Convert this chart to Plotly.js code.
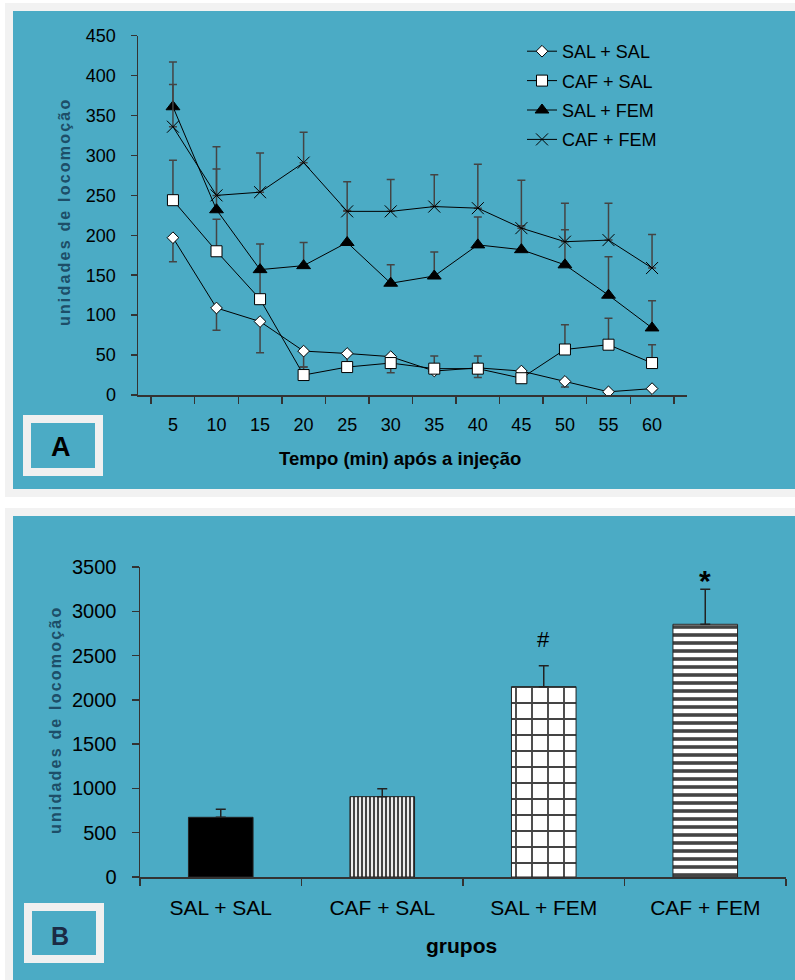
<!DOCTYPE html>
<html><head><meta charset="utf-8">
<script src="https://cdn.plot.ly/plotly-3.0.1.min.js"></script>
<style>
html,body{margin:0;padding:0;background:#fff;}
#chart{width:795px;height:980px;}
.annotation[data-index="0"] text, .annotation[data-index="1"] text {letter-spacing:2.2px;}
</style></head><body><div id="chart"></div>
<script>
// ---- Data (panel A) ----
const times = [5,10,15,20,25,30,35,40,45,50,55,60];
const seriesNames = ["SAL + SAL","CAF + SAL","SAL + FEM","CAF + FEM"];
const salSal    = [197,109,92,55,52,48,30,34,30,17,4,8];
const salSalErr = [30,28,39,20,12,20,0,12,0,7,0,0];      // drawn downward
const cafSal    = [244,180,120,25,35,40,33,33,21,57,63,40];
const cafSalErr = [50,40,35,10,0,0,16,16,0,31,33,23];
const salFem    = [361,232,157,162,191,140,149,188,182,163,125,84];
const salFemErr = [56,51,32,29,40,23,30,35,30,44,48,34];
const cafFem    = [336,250,254,291,230,230,236,234,209,192,194,159];
const cafFemErr = [53,61,49,38,37,40,40,55,60,48,46,42];
const yTicksA = [0,50,100,150,200,250,300,350,400,450];

// ---- Data (panel B) ----
const groups  = ["SAL + SAL","CAF + SAL","SAL + FEM","CAF + FEM"];
const totals  = [674, 907, 2149, 2853];
const totErr  = [90, 90, 237, 395];
const sigMarks = ["", "", "#", "*"];
const yTicksB = [0,500,1000,1500,2000,2500,3000,3500];

const W = 795, H = 980;
const px = x => x / W;
const py = y => 1 - y / H;
const FONT = "Liberation Sans, Arial, sans-serif";
const zeros = n => new Array(n).fill(0);

function lineTrace(name, y, err, up, marker) {
  return {
    type: "scatter", mode: "lines+markers", name: name, legendgroup: name,
    x: times, y: y, xaxis: "x", yaxis: "y",
    line: {color: "#000", width: 1},
    marker: marker,
    error_y: {type: "data", symmetric: false,
      array: up ? err : zeros(err.length),
      arrayminus: up ? zeros(err.length) : err,
      color: "#444", thickness: 1.5, width: 4}
  };
}

const traces = [
  lineTrace(seriesNames[0], salSal, salSalErr, false,
    {symbol: "diamond", size: 9, color: "#fff", line: {color: "#000", width: 1}}),
  lineTrace(seriesNames[1], cafSal, cafSalErr, true,
    {symbol: "square", size: 11, color: "#fff", line: {color: "#000", width: 1}}),
  lineTrace(seriesNames[2], salFem, salFemErr, true,
    {symbol: "triangle-up", size: 12, color: "#000", line: {color: "#000", width: 1}}),
  lineTrace(seriesNames[3], cafFem, cafFemErr, true,
    {symbol: "x-thin-open", size: 12, color: "#000", line: {color: "#000", width: 1}}),
  {
    type: "bar", x: groups, y: totals, xaxis: "x2", yaxis: "y2", showlegend: false,
    marker: {
      color: ["#000", "#fff", "#fff", "#fff"],
      line: {color: "#222", width: 1},
      pattern: {shape: ["", "|", "+", "-"], fgcolor: "#111",
        fgopacity: 1, fillmode: "overlay",
        size: [8, 4, 16, 8], solidity: [0.3, 0.55, 0.22, 0.45]}
    },
    error_y: {type: "data", symmetric: false, array: totErr, arrayminus: zeros(totErr.length),
      color: "#222", thickness: 1.5, width: 5}
  }
];

const axisCommon = {
  showline: true, linecolor: "#333", linewidth: 1.5,
  ticks: "outside", tickcolor: "#333", tickwidth: 1.5,
  showgrid: false, zeroline: false, fixedrange: true
};

const ann = (text, x, y, font, extra) => Object.assign({
  text: text, xref: "paper", yref: "paper", x: px(x), y: py(y),
  xanchor: "center", yanchor: "middle", showarrow: false, font: font
}, extra || {});

const annotations = [
  ann("unidades de locomoção", 64, 212, {family: FONT, size: 16, weight: "bold", color: "#1d4e68"}, {textangle: -90}),
  ann("unidades de locomoção", 55, 720, {family: FONT, size: 16, weight: "bold", color: "#1d4e68"}, {textangle: -90}),
  ann("Tempo (min) após a injeção", 400, 458, {family: FONT, size: 18.5, weight: "bold", color: "#000"}),
  ann("grupos", 461, 945, {family: FONT, size: 21, weight: "bold", color: "#000"}),
  ann("A", 61, 447, {family: FONT, size: 27, weight: "bold", color: "#000"}),
  ann("B", 60, 936, {family: FONT, size: 25, weight: "bold", color: "#1b2b45"})
];
groups.forEach((g, i) => {
  if (!sigMarks[i]) return;
  const star = sigMarks[i] === "*";
  annotations.push({
    text: sigMarks[i], xref: "x2", yref: "y2", x: g, y: totals[i] + totErr[i],
    xanchor: "center", yanchor: "bottom", yshift: star ? -10 : 12, showarrow: false,
    font: {family: FONT, size: star ? 30 : 22, weight: star ? "bold" : "normal", color: "#000"}
  });
});

const rect = (x0, y0, x1, y1, fill, line) => ({
  type: "rect", xref: "paper", yref: "paper", layer: "below",
  x0: px(x0), x1: px(x1), y0: py(y1), y1: py(y0),
  fillcolor: fill || "rgba(0,0,0,0)",
  line: line || {width: 0}
});
const BLUE = "#4babc5", GRAY = "#f2f2f2";
const shapes = [
  rect(5, 3, 795, 497, GRAY),
  rect(13, 11, 795, 489, BLUE),
  rect(5, 508, 795, 980, GRAY),
  rect(13, 516, 795, 980, BLUE),
  rect(27, 419, 99, 472, null, {color: "#f0f0f0", width: 8}),
  rect(28, 907, 100, 959, null, {color: "#f0f0f0", width: 8})
];

const layout = {
  width: W, height: H,
  margin: {l: 0, r: 0, t: 0, b: 0},
  paper_bgcolor: "#fff", plot_bgcolor: "#fff",
  font: {family: FONT, color: "#000"},
  showlegend: true,
  legend: {x: px(522), y: py(33), xanchor: "left", yanchor: "top",
    bgcolor: "rgba(0,0,0,0)", font: {family: FONT, size: 18, color: "#000"},
    tracegroupgap: 3, traceorder: "grouped"},
  bargap: 0.6,
  xaxis: Object.assign({}, axisCommon, {
    domain: [px(138), px(687)], anchor: "y", type: "category",
    tickson: "boundaries", ticklen: 7, ticklabelstandoff: 13,
    tickfont: {family: FONT, size: 18, color: "#000"}
  }),
  yaxis: Object.assign({}, axisCommon, {
    domain: [py(395), py(35.7)], anchor: "x", range: [0, 450],
    tickvals: yTicksA, ticklen: 6, ticklabelstandoff: 11,
    tickfont: {family: FONT, size: 18, color: "#000"}
  }),
  xaxis2: Object.assign({}, axisCommon, {
    domain: [px(140), px(786)], anchor: "y2", type: "category",
    tickson: "boundaries", ticklen: 7, ticklabelstandoff: 11,
    tickfont: {family: FONT, size: 21, color: "#000"}
  }),
  yaxis2: Object.assign({}, axisCommon, {
    domain: [py(877), py(567)], anchor: "x2", range: [0, 3500],
    tickvals: yTicksB, ticklen: 7, ticklabelstandoff: 11,
    tickfont: {family: FONT, size: 20, color: "#000"}
  }),
  annotations: annotations,
  shapes: shapes
};

Plotly.newPlot("chart", traces, layout, {displayModeBar: false, staticPlot: true});
</script></body></html>
